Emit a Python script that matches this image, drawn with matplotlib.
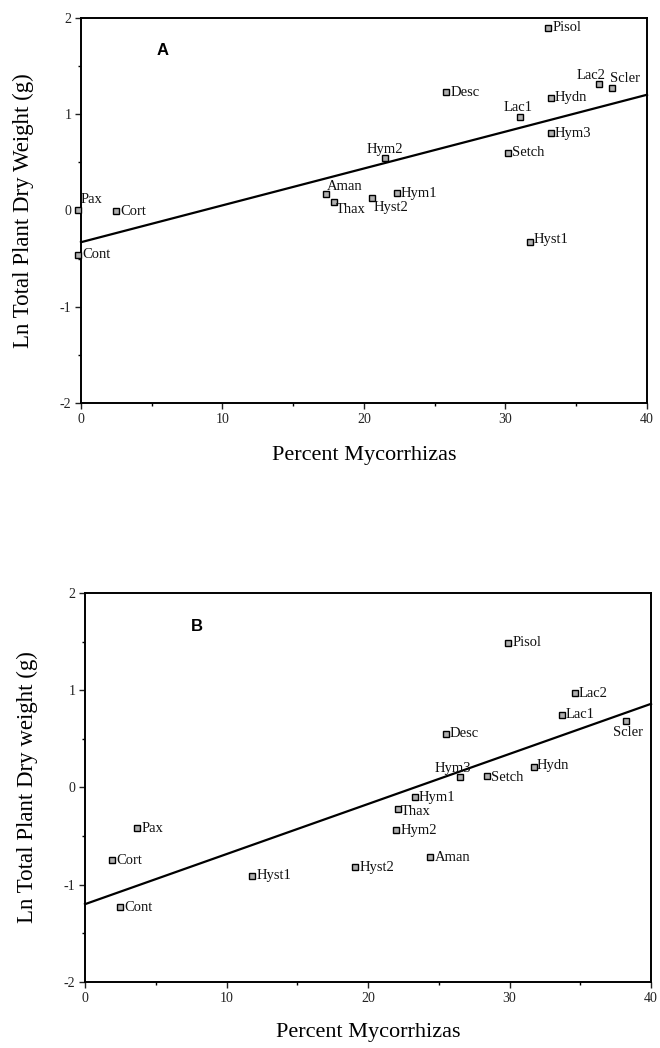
import matplotlib
matplotlib.use("Agg")
import matplotlib.pyplot as plt
import numpy as np
from matplotlib.ticker import MultipleLocator

plt.rcParams['font.family'] = ['Liberation Serif', 'DejaVu Serif']
plt.rcParams['axes.unicode_minus'] = False

# ---- Panel A data ----
names_a = ["Pax", "Cont", "Cort", "Aman", "Thax", "Hyst2", "Hym1", "Hym2", "Desc",
           "Lac1", "Setch", "Hydn", "Hym3", "Lac2", "Scler", "Pisol", "Hyst1"]
pct_a = [-0.2, -0.2, 2.5, 17.3, 17.9, 20.6, 22.3, 21.5, 25.8,
         31.0, 30.2, 33.2, 33.2, 36.6, 37.5, 33.0, 31.7]
lnw_a = [0.00, -0.46, -0.01, 0.17, 0.09, 0.13, 0.18, 0.54, 1.23,
         0.97, 0.60, 1.17, 0.80, 1.31, 1.27, 1.90, -0.33]
fit_a = (-0.33, 0.0383)  # intercept, slope

# ---- Panel B data ----
names_b = ["Pax", "Cort", "Cont", "Hyst1", "Hyst2", "Aman", "Hym2", "Thax", "Hym1",
           "Hym3", "Setch", "Hydn", "Desc", "Lac1", "Lac2", "Pisol", "Scler"]
pct_b = [3.7, 1.9, 2.5, 11.8, 19.1, 24.4, 22.0, 22.1, 23.3,
         26.5, 28.4, 31.7, 25.5, 33.7, 34.6, 29.9, 38.2]
lnw_b = [-0.42, -0.75, -1.23, -0.91, -0.82, -0.72, -0.44, -0.22, -0.10,
         0.11, 0.12, 0.21, 0.55, 0.75, 0.97, 1.49, 0.68]
fit_b = (-1.20, 0.0515)

xlim = (0, 40)
ylim = (-2, 2)
xticks = [0, 10, 20, 30, 40]
yticks = [-2, -1, 0, 1, 2]

# label placement: (dx, dy, ha, va) in points
right = (3, 0, 'left', 'center')
place_a = {
    "Pax": (2, 3, 'left', 'bottom'),
    "Aman": (1, 1, 'left', 'bottom'),
    "Thax": (1, -1, 'left', 'top'),
    "Hyst2": (1, -2, 'left', 'top'),
    "Hym2": (0, 2, 'center', 'bottom'),
    "Lac1": (-1, 2, 'center', 'bottom'),
    "Lac2": (-6, 2, 'center', 'bottom'),
    "Scler": (-1, 2, 'left', 'bottom'),
    "Hyst1": (3, 2, 'left', 'center'),
}
place_b = {
    "Hym3": (-5, 1, 'center', 'bottom'),
    "Scler": (2, -3, 'center', 'top'),
    "Thax": (2, -2, 'left', 'center'),
    "Setch": (3, -1, 'left', 'center'),
    "Hydn": (2, 1, 'left', 'center'),
}

fig = plt.figure(figsize=(6.6, 10.48), dpi=100)
ax_a = fig.add_axes([0.1227, 0.6155, 0.8576, 0.3674])
ax_b = fig.add_axes([0.1288, 0.0630, 0.8576, 0.3712])


def draw(ax, names, xs, ys, fit, place, letter, ylabel, lpos, xl_y):
    xx = np.array(xlim, dtype=float)
    ax.plot(xx, fit[0] + fit[1] * xx, color='black', lw=1.6, zorder=2, clip_on=False)
    ax.plot(xs, ys, linestyle='none', marker='s', markersize=4.5,
            markerfacecolor='#b0b0b0', markeredgecolor='black', markeredgewidth=1.0,
            zorder=3, clip_on=False)
    for n, x, y in zip(names, xs, ys):
        dx, dy, ha, va = place.get(n, right)
        ax.annotate(n, (x, y), xytext=(dx, dy), textcoords='offset points',
                    ha=ha, va=va, fontsize=10.5, color='#111111',
                    annotation_clip=False)
    ax.set_xlim(*xlim)
    ax.set_ylim(*ylim)
    ax.set_xticks(xticks)
    ax.set_yticks(yticks)
    ax.xaxis.set_minor_locator(MultipleLocator(5))
    ax.yaxis.set_minor_locator(MultipleLocator(0.5))
    ax.tick_params(which='major', direction='out', length=4, width=1.0,
                   labelsize=10, pad=3, colors='#222222')
    ax.tick_params(which='minor', direction='out', length=2, width=1.0)
    for s in ax.spines.values():
        s.set_linewidth(1.4)
    ax.text(lpos[0], lpos[1], letter, transform=ax.transAxes,
            fontsize=12, fontweight='bold', family='Liberation Sans',
            ha='center', va='center')
    ax.set_xlabel("Percent Mycorrhizas", fontsize=16)
    ax.set_ylabel(ylabel, fontsize=16.5)
    ax.xaxis.set_label_coords(0.5, xl_y)
    ax.yaxis.set_label_coords(-0.083, 0.5)


draw(ax_a, names_a, pct_a, lnw_a, fit_a, place_a, 'A',
     "Ln Total Plant Dry Weight (g)", (0.145, 0.915), -0.113)
draw(ax_b, names_b, pct_b, lnw_b, fit_b, place_b, 'B',
     "Ln Total Plant Dry weight (g)", (0.198, 0.915), -0.105)

fig.savefig("out.png", dpi=100)
